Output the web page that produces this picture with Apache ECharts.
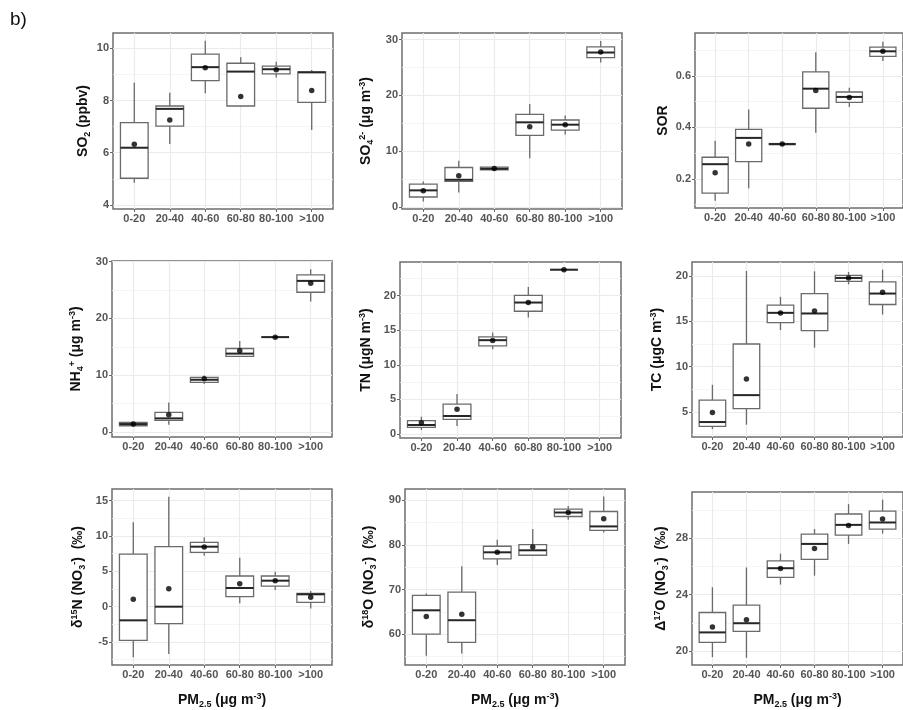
<!DOCTYPE html>
<html>
<head>
<meta charset="utf-8">
<script src="https://cdn.jsdelivr.net/npm/echarts@6/dist/echarts.min.js"></script>
<style>
html, body { margin: 0; padding: 0; background: #fff; }
#chart { width: 903px; height: 710px; }
</style>
</head>
<body>
<div id="chart"></div>
<script>
var categories = ['0-20', '20-40', '40-60', '60-80', '80-100', '>100'];
var catPos = [1, 2, 3, 4, 5, 6];

// box rows: [lower whisker, Q1, median, Q3, upper whisker]
var so2Box = [[4.85, 5.02, 6.19, 7.15, 8.68], [6.33, 7.02, 7.68, 7.79, 8.30], [8.28, 8.76, 9.28, 9.78, 10.29],
  [7.78, 7.79, 9.11, 9.43, 9.66], [8.88, 9.02, 9.20, 9.32, 9.49], [6.87, 7.93, 9.08, 9.10, 9.17]];
var so2Mean = [6.32, 7.25, 9.26, 8.15, 9.18, 8.38];
var so2Range = [3.84, 10.59], so2Ticks = [4, 6, 8, 10], so2Minor = [5, 7, 9];

var so4Box = [[1.0, 1.79, 2.98, 4.1, 4.58], [2.62, 4.58, 4.88, 7.08, 8.27], [6.55, 6.67, 6.85, 7.14, 7.26],
  [8.75, 12.86, 15.18, 16.6, 18.45], [12.98, 13.8, 14.76, 15.6, 16.4], [25.9, 26.8, 27.7, 28.7, 29.75]];
var so4Mean = [2.9, 5.6, 6.9, 14.4, 14.76, 27.8];
var so4Range = [-0.36, 31.2], so4Ticks = [0, 10, 20, 30], so4Minor = [5, 15, 25];

var sorBox = [[0.115, 0.145, 0.257, 0.284, 0.348], [0.164, 0.267, 0.359, 0.392, 0.469], [0.333, 0.333, 0.335, 0.337, 0.337],
  [0.379, 0.474, 0.55, 0.615, 0.691], [0.479, 0.497, 0.518, 0.537, 0.554], [0.657, 0.675, 0.695, 0.711, 0.732]];
var sorMean = [0.224, 0.335, 0.335, 0.543, 0.516, 0.695];
var sorRange = [0.087, 0.766], sorTicks = [0.2, 0.4, 0.6], sorMinor = [0.1, 0.3, 0.5, 0.7];

var nh4Box = [[1.0, 1.1, 1.4, 1.7, 1.76], [1.29, 2.05, 2.4, 3.46, 5.2], [8.44, 8.73, 9.2, 9.6, 9.96],
  [13.2, 13.3, 13.8, 14.7, 16.0], [16.7, 16.7, 16.7, 16.7, 16.7], [22.96, 24.6, 26.6, 27.65, 28.65]];
var nh4Mean = [1.4, 3.05, 9.37, 14.3, 16.7, 26.2];
var nh4Range = [-0.88, 30.1], nh4Ticks = [0, 10, 20, 30], nh4Minor = [5, 15, 25];

var tnBox = [[0.58, 0.96, 1.3, 1.92, 2.5], [1.15, 2.1, 2.6, 4.33, 5.77], [12.26, 12.74, 13.56, 14.04, 14.66],
  [16.83, 17.74, 19.0, 20.05, 21.25], [23.75, 23.75, 23.75, 23.75, 23.75], null];
var tnMean = [1.63, 3.56, 13.5, 19.0, 23.75, null];
var tnRange = [-0.58, 24.86], tnTicks = [0, 5, 10, 15, 20], tnMinor = [2.5, 7.5, 12.5, 17.5, 22.5];

var tcBox = [[3.11, 3.41, 3.88, 6.3, 7.99], [3.59, 5.35, 6.85, 12.49, 20.55], [14.03, 14.84, 15.93, 16.78, 17.7],
  [12.09, 13.96, 15.86, 18.06, 20.51], [19.08, 19.41, 19.78, 20.07, 20.44], [15.75, 16.85, 18.06, 19.34, 20.7]];
var tcMean = [4.94, 8.64, 15.9, 16.12, 19.78, 18.2];
var tcRange = [2.23, 21.54], tcTicks = [5, 10, 15, 20], tcMinor = [2.5, 7.5, 12.5, 17.5];

var d15nBox = [[-7.17, -4.76, -1.93, 7.45, 11.93], [-6.7, -2.4, 0, 8.49, 15.57], [7.22, 7.69, 8.49, 9.1, 9.81],
  [0.47, 1.42, 2.64, 4.34, 6.93], [2.36, 2.92, 3.68, 4.34, 4.95], [-0.24, 0.61, 1.75, 1.89, 2.22]];
var d15nMean = [1.04, 2.55, 8.45, 3.25, 3.68, 1.32];
var d15nRange = [-8.25, 16.65], d15nTicks = [-5, 0, 5, 10, 15], d15nMinor = [-7.5, -2.5, 2.5, 7.5, 12.5];

var d18oBox = [[55.18, 60.0, 65.35, 68.7, 69.14], [55.7, 58.15, 63.13, 69.44, 75.23], [75.5, 76.85, 78.34, 79.7, 81.17],
  [77.68, 77.68, 78.79, 80.05, 83.54], [85.62, 86.36, 87.25, 88.0, 88.74], [82.8, 83.24, 84.14, 87.48, 90.82]];
var d18oMean = [63.94, 64.46, 78.34, 79.53, 87.25, 85.84];
var d18oRange = [53.1, 92.52], d18oTicks = [60, 70, 80, 90], d18oMinor = [55, 65, 75, 85];

var d17oBox = [[19.58, 20.63, 21.33, 22.74, 24.53], [19.53, 21.4, 21.98, 23.26, 25.93], [24.72, 25.23, 25.88, 26.4, 26.91],
  [25.35, 26.51, 27.6, 28.3, 28.65], [27.6, 28.23, 28.95, 29.72, 30.42], [28.33, 28.65, 29.12, 29.93, 30.74]];
var d17oMean = [21.72, 22.23, 25.86, 27.28, 28.9, 29.37];
var d17oRange = [19.02, 31.28], d17oTicks = [20, 24, 28], d17oMinor = [22, 26, 30];

var FONT = '"Liberation Sans", Arial, sans-serif';
var xTitle = '{n|PM}{b|2.5}{n| (μg m}{p|-3}{n|)}';

var panels = [
  { box: so2Box, mean: so2Mean, range: so2Range, ticks: so2Ticks, minor: so2Minor, title: '{n|SO}{b|2}{n| (ppbv)}', pos: [113, 33, 220, 176], gap: 21 },
  { box: so4Box, mean: so4Mean, range: so4Range, ticks: so4Ticks, minor: so4Minor, title: '{n|SO}{b|4}{p|2-}{n| (μg m}{p|-3}{n|)}', pos: [402, 33, 220, 176], gap: 27 },
  { box: sorBox, mean: sorMean, range: sorRange, ticks: sorTicks, minor: sorMinor, title: '{n|SOR}', pos: [695, 33, 217, 175], gap: 25 },
  { box: nh4Box, mean: nh4Mean, range: nh4Range, ticks: nh4Ticks, minor: nh4Minor, title: '{n|NH}{b|4}{p|+}{n| (μg m}{p|-3}{n|)}', pos: [112, 261, 220, 176], gap: 27 },
  { box: tnBox, mean: tnMean, range: tnRange, ticks: tnTicks, minor: tnMinor, title: '{n|TN (μgN m}{p|-3}{n|)}', pos: [400, 262, 221, 176], gap: 25 },
  { box: tcBox, mean: tcMean, range: tcRange, ticks: tcTicks, minor: tcMinor, title: '{n|TC (μgC m}{p|-3}{n|)}', pos: [692, 262, 218, 175], gap: 26 },
  { box: d15nBox, mean: d15nMean, range: d15nRange, ticks: d15nTicks, minor: d15nMinor, title: '{n|δ}{p|15}{n|N (NO}{b|3}{p|-}{n|)  (‰)}', pos: [112, 489, 220, 176], gap: 25 },
  { box: d18oBox, mean: d18oMean, range: d18oRange, ticks: d18oTicks, minor: d18oMinor, title: '{n|δ}{p|18}{n|O (NO}{b|3}{p|-}{n|)  (‰)}', pos: [405, 489, 220, 177], gap: 27 },
  { box: d17oBox, mean: d17oMean, range: d17oRange, ticks: d17oTicks, minor: d17oMinor, title: '{n|Δ}{p|17}{n|O (NO}{b|3}{p|-}{n|)  (‰)}', pos: [692, 492, 218, 175], gap: 22 }
];

var yRich = {
  n: { fontFamily: FONT, fontSize: 14, fontWeight: 'bold', color: '#111' },
  b: { fontFamily: FONT, fontSize: 9, fontWeight: 'bold', color: '#111', padding: [8, 0, 0, 0] },
  p: { fontFamily: FONT, fontSize: 9, fontWeight: 'bold', color: '#111', padding: [0, 0, 8, 0] }
};
var xRich = {
  n: { fontFamily: FONT, fontSize: 14, fontWeight: 'bold', color: '#111' },
  b: { fontFamily: FONT, fontSize: 9, fontWeight: 'bold', color: '#111', padding: [8, 0, 0, 0] },
  p: { fontFamily: FONT, fontSize: 9, fontWeight: 'bold', color: '#111', padding: [0, 0, 8, 0] }
};

function renderBox(params, api) {
  var x = api.value(0);
  var lo = api.coord([x, api.value(1)]);
  var q1 = api.coord([x, api.value(2)]);
  var md = api.coord([x, api.value(3)]);
  var q3 = api.coord([x, api.value(4)]);
  var hi = api.coord([x, api.value(5)]);
  var half = api.size([0.78, 0])[0] / 2;
  var lineCol = '#6a6a6a';
  return {
    type: 'group',
    children: [
      { type: 'line', shape: { x1: hi[0], y1: hi[1], x2: q3[0], y2: q3[1] }, style: { stroke: lineCol, lineWidth: 1.3 } },
      { type: 'line', shape: { x1: q1[0], y1: q1[1], x2: lo[0], y2: lo[1] }, style: { stroke: lineCol, lineWidth: 1.3 } },
      { type: 'rect', shape: { x: q3[0] - half, y: q3[1], width: half * 2, height: q1[1] - q3[1] }, style: { fill: '#fff', stroke: lineCol, lineWidth: 1.3 } },
      { type: 'line', shape: { x1: md[0] - half, y1: md[1], x2: md[0] + half, y2: md[1] }, style: { stroke: '#262626', lineWidth: 2 } }
    ]
  };
}

var option = {
  animation: false,
  backgroundColor: '#fff',
  grid: [], xAxis: [], yAxis: [], series: [],
  graphic: [{ type: 'text', left: 10, top: 10, style: { text: 'b)', fontFamily: FONT, fontSize: 19, fill: '#111' } }]
};

var labelStyle = { fontFamily: FONT, fontSize: 11, fontWeight: 'bold', color: '#555' };

panels.forEach(function (p, i) {
  option.grid.push({
    left: p.pos[0], top: p.pos[1], width: p.pos[2], height: p.pos[3],
    show: true, borderColor: '#6e6e6e', borderWidth: 1.5, backgroundColor: 'transparent'
  });
  option.xAxis.push({
    type: 'value', gridIndex: i, min: 0.4, max: 6.6, position: 'bottom',
    name: i >= 6 ? xTitle : '', nameLocation: 'middle', nameGap: 27, nameTextStyle: { rich: xRich },
    axisLine: { show: false, onZero: false },
    axisTick: { show: true, length: 3, customValues: catPos, lineStyle: { color: '#666', width: 1 } },
    axisLabel: Object.assign({ customValues: catPos, margin: 4, formatter: function (v) { return categories[Math.round(v) - 1]; } }, labelStyle),
    splitLine: { show: true, lineStyle: { color: '#ebebeb', width: 1.2 } }
  });
  option.yAxis.push({
    type: 'value', gridIndex: i, min: p.range[0], max: p.range[1], position: 'left',
    name: p.title, nameLocation: 'middle', nameRotate: 90, nameGap: p.gap, nameTextStyle: { rich: yRich },
    axisLine: { show: false, onZero: false },
    axisTick: { show: true, length: 3, customValues: p.ticks, lineStyle: { color: '#666', width: 1 } },
    axisLabel: Object.assign({ customValues: p.ticks, margin: 4 }, labelStyle),
    splitLine: { show: true, lineStyle: { color: '#ebebeb', width: 1.2 } }
  });
  option.yAxis.push({
    type: 'value', gridIndex: i, min: p.range[0], max: p.range[1], position: 'right',
    axisLine: { show: false, onZero: false },
    axisTick: { show: false, customValues: p.minor },
    axisLabel: { show: false, customValues: p.minor },
    splitLine: { show: true, lineStyle: { color: '#f3f3f3', width: 0.8 } }
  });
  var boxData = [], meanData = [];
  p.box.forEach(function (b, k) {
    if (b) boxData.push([catPos[k]].concat(b));
    if (p.mean[k] != null) meanData.push([catPos[k], p.mean[k]]);
  });
  option.series.push({
    type: 'custom', xAxisIndex: i, yAxisIndex: 2 * i, renderItem: renderBox,
    encode: { x: 0, y: [1, 2, 3, 4, 5] }, data: boxData, z: 3, silent: true
  });
  option.series.push({
    type: 'scatter', xAxisIndex: i, yAxisIndex: 2 * i, symbol: 'circle', symbolSize: 5.5,
    itemStyle: { color: '#000' }, data: meanData, z: 4, silent: true
  });
});

var myChart = echarts.init(document.getElementById('chart'));
myChart.setOption(option);
</script>
</body>
</html>
